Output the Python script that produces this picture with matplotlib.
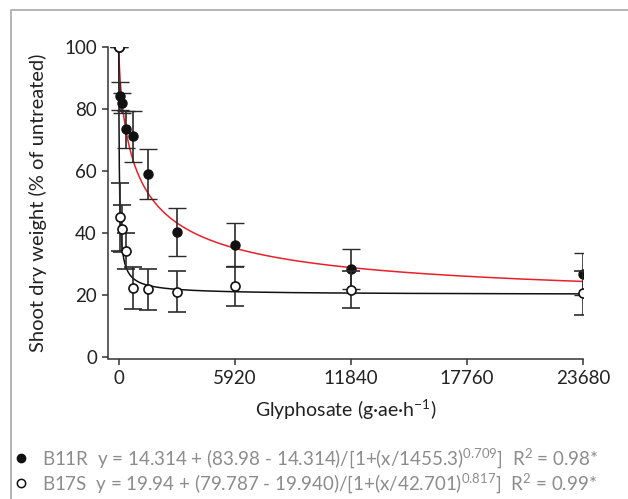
import numpy as np
import matplotlib
matplotlib.use("Agg")
from matplotlib import pyplot as plt
from matplotlib.lines import Line2D

plt.rcParams['font.family'] = ['Lato', 'DejaVu Sans']
plt.rcParams['mathtext.fontset'] = 'custom'
plt.rcParams['mathtext.rm'] = 'Lato'
plt.rcParams['mathtext.it'] = 'Lato:italic'

# glyphosate doses (g ae / ha) and shoot dry weight (% of untreated)
doses = [0, 46.25, 185, 370, 740, 1480, 2960, 5920, 11840, 23680]
b11r_mean = [100, 84.2, 81.8, 73.4, 71.2, 59.0, 40.3, 36.1, 28.4, 26.8]
b11r_err = [0, 4.4, 3.2, 6.0, 8.2, 8.0, 7.7, 6.9, 6.5, 6.8]
b17s_mean = [100, 45.1, 41.3, 34.1, 22.1, 21.7, 21.0, 22.7, 21.6, 20.5]
b17s_err = [0, 11.0, 7.6, 5.8, 6.7, 6.7, 6.6, 6.3, 6.0, 7.0]

# log-logistic curves as drawn: c (lower), d (upper), e (ED50), b (slope)
b11r_fit = (16.0, 100.0, 1050.0, 0.71)
b17s_fit = (19.94, 100.0, 29.0, 0.817)

xticks = [0, 5920, 11840, 17760, 23680]
yticks = [0, 20, 40, 60, 80, 100]

legend_r = (r'B11R  y = 14.314 + (83.98 - 14.314)/[1+(x/1455.3)$^{\mathrm{0.709}}$]  '
            r'R$^{\mathrm{2}}$ = 0.98*')
legend_s = (r'B17S  y = 19.94 + (79.787 - 19.940)/[1+(x/42.701)$^{\mathrm{0.817}}$]  '
            r'R$^{\mathrm{2}}$ = 0.99*')


def loglogistic(x, p):
    c, d, e, b = p
    return c + (d - c) / (1 + (x / e) ** b)


def main():
    fig = plt.figure(figsize=(6.28, 4.99), dpi=100)
    ax = fig.add_axes([108 / 628, 1 - 358.5 / 499, 475 / 628, 311.5 / 499])

    xx = np.concatenate([[0], np.geomspace(1, 23680, 800)])
    ax.plot(xx, loglogistic(xx, b11r_fit), color='#e8202a', lw=1.1, zorder=2)
    ax.plot(xx, loglogistic(xx, b17s_fit), color='#111111', lw=1.1, zorder=2)

    ekw = dict(ecolor='#2b2b2b', elinewidth=1.2, capsize=6.5, capthick=1.2, ls='none')
    ax.errorbar(doses, b17s_mean, yerr=b17s_err, fmt='o', ms=6.5, mfc='white',
                mec='#111111', mew=1.2, zorder=4, **ekw)
    ax.errorbar(doses, b11r_mean, yerr=b11r_err, fmt='o', ms=6.5, mfc='#111111',
                mec='#111111', mew=1.0, zorder=3, **ekw)
    # control point drawn on top
    ax.plot([doses[0]], [b17s_mean[0]], 'o', ms=6.5, mfc='white', mec='#111111', mew=1.2, zorder=5)

    ax.set_xlim(-551, 23680)
    ax.set_ylim(-0.6, 100)
    ax.set_xticks(xticks)
    ax.set_yticks(yticks)
    ax.spines['top'].set_visible(False)
    ax.spines['right'].set_visible(False)
    for s in ['left', 'bottom']:
        ax.spines[s].set_color('#333333')
        ax.spines[s].set_linewidth(1.1)
    ax.tick_params(direction='out', length=4, width=1.1, color='#333333',
                   labelsize=13.5, labelcolor='#222222', pad=4)

    ax.set_ylabel('Shoot dry weight (% of untreated)', fontsize=14.5, color='#222222', labelpad=12)
    ax.set_xlabel(r'Glyphosate (g·ae·h$^{\mathrm{-1}}$)', fontsize=14, color='#222222', labelpad=8)

    # legend rows below the plot
    fig.add_artist(Line2D([21 / 628], [1 - 458 / 499], marker='o', ms=6, mfc='#111111',
                          mec='#111111', ls='none'))
    fig.add_artist(Line2D([21 / 628], [1 - 483 / 499], marker='o', ms=6, mfc='white',
                          mec='#111111', mew=1.1, ls='none'))
    fig.text(42 / 628, 1 - 458 / 499, legend_r, fontsize=13.5, color='#8c8c8c', va='center')
    fig.text(42 / 628, 1 - 483 / 499, legend_s, fontsize=13.5, color='#8c8c8c', va='center')

    # light frame around the figure panel
    fig.add_artist(Line2D([10.5 / 628, 10.5 / 628, 1.0], [0.0, 1 - 9.5 / 499, 1 - 9.5 / 499],
                          color='#b4b4b4', lw=1.4))

    fig.savefig('out.png', dpi=100)


if __name__ == "__main__":
    main()
